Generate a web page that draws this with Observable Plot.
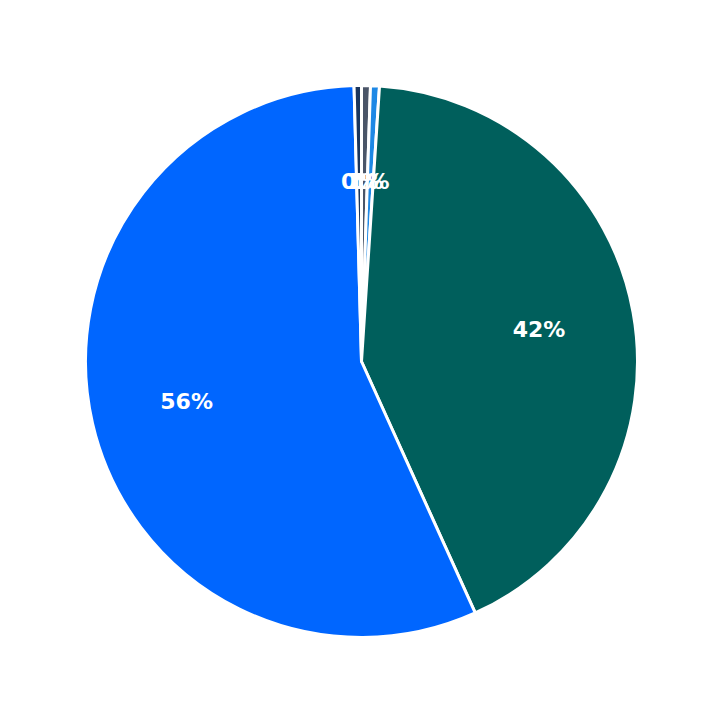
<!DOCTYPE html>
<html>
<head>
<meta charset="utf-8">
<script src="https://cdn.jsdelivr.net/npm/d3@7"></script>
<script src="https://cdn.jsdelivr.net/npm/@observablehq/plot@0.6"></script>
<style>
  html, body { margin: 0; padding: 0; background: #fff; }
</style>
</head>
<body>
<div id="chart"></div>
<script>
// Slices in clockwise order starting at 12 o'clock
const categories = ["Slate", "Light blue", "Teal", "Blue", "Navy"];
const values = [0.52, 0.52, 42.2, 56.33, 0.43];
const colors = ["#4a5568", "#1e88e5", "#005f5c", "#0066ff", "#1b365d"];

const W = 723, H = 723, R = 276;
const ext = (W / 2) / R;

const table = categories.map((c, i) => ({category: c, value: values[i], color: colors[i]}));
const arcs = d3.pie().sort(null).value(d => d.value).startAngle(0).endAngle(2 * Math.PI)(table);
const labelArc = d3.arc().innerRadius(0.652).outerRadius(0.652);
const labels = arcs.map(a => {
  const [x, y] = labelArc.centroid(a);
  return {x, y: -y, text: Math.round(a.data.value) + "%"};
});

function pieMark(index, scales) {
  const cx = scales.x(0), cy = scales.y(0);
  const r = scales.x(1) - scales.x(0);
  const arc = d3.arc().innerRadius(0).outerRadius(r);
  const g = d3.create("svg:g").attr("transform", `translate(${cx},${cy})`);
  g.selectAll("path").data(arcs).join("path")
    .attr("d", arc)
    .attr("fill", d => d.data.color)
    .attr("stroke", "#fff")
    .attr("stroke-width", 3)
    .attr("stroke-linejoin", "round");
  return g.node();
}

const chart = Plot.plot({
  width: W,
  height: H,
  margin: 0,
  x: {domain: [-ext, ext], axis: null},
  y: {domain: [-ext, ext], axis: null},
  style: {background: "#fff"},
  marks: [
    pieMark,
    Plot.text(labels, {
      x: "x", y: "y", text: "text",
      fill: "#fff",
      fontSize: 22,
      fontWeight: "bold",
      fontFamily: "DejaVu Sans",
      textAnchor: "middle"
    })
  ]
});
document.getElementById("chart").appendChild(chart);
</script>
</body>
</html>
